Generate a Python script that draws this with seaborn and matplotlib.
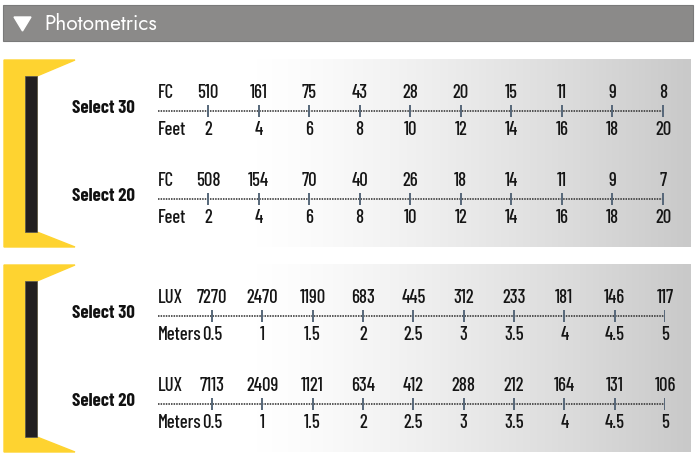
import numpy as np
import pandas as pd
import matplotlib
matplotlib.use("Agg")
import matplotlib.pyplot as plt
import seaborn as sns
from matplotlib.patches import Rectangle, Polygon

sns.set_theme(style="white")
plt.rcParams['font.family'] = ['Barlow Condensed', 'DejaVu Sans']

# data
feet = [2, 4, 6, 8, 10, 12, 14, 16, 18, 20]
fc_select30 = [510, 161, 75, 43, 28, 20, 15, 11, 9, 8]
fc_select20 = [508, 154, 70, 40, 26, 18, 14, 11, 9, 7]
meters = [0.5, 1, 1.5, 2, 2.5, 3, 3.5, 4, 4.5, 5]
lux_select30 = [7270, 2470, 1190, 683, 445, 312, 233, 181, 146, 117]
lux_select20 = [7113, 2409, 1121, 634, 412, 288, 212, 164, 131, 106]
meter_labels = ["0.5", "1", "1.5", "2", "2.5", "3", "3.5", "4", "4.5", "5"]

W, H = 697, 465
fig = plt.figure(figsize=(W / 100, H / 100), dpi=100)
bg = fig.add_axes([0, 0, 1, 1])
bg.set_xlim(0, W)
bg.set_ylim(H, 0)
bg.axis("off")

# header bar
bg.add_patch(Rectangle((3, 5), 690, 36, color="#8b8a89", ec="#7a7a7a", lw=0.8))
bg.add_patch(Polygon([(14, 17), (31, 17), (22.5, 31)], color="white"))
bg.text(44, 23.5, "Photometrics", color="white", fontsize=15, va="center",
        ha="left", family=["Jost", "DejaVu Sans"])

grad = np.linspace(0, 1, 256)
grad = np.clip((grad - 0.15) / 0.85, 0, 1) ** 1.3
grad = np.vstack([grad, grad])
cmap = matplotlib.colors.LinearSegmentedColormap.from_list("g", ["#ffffff", "#c9c9c9"])


def panel(top, bottom):
    bg.imshow(grad, cmap=cmap, extent=(173, 691, bottom, top), aspect="auto", zorder=0)
    bg.add_patch(Polygon([(4, top), (75, top), (37, top + 16), (37, bottom - 15),
                          (75, bottom), (4, bottom)], color="#fed330", zorder=1))
    bg.add_patch(Rectangle((25, top + 16), 12, bottom - top - 31, color="#221f20",
                           ec="#555555", lw=0.5, zorder=2))


panel(60, 247)
panel(265, 452)
bg.set_xlim(0, W)
bg.set_ylim(H, 0)

TXT = dict(fontsize=13.5, fontweight="medium", color="#151515", va="center")


def row(line_y, name, top_label, values, bottom_label, dist, dist_labels, px0, px1):
    x_left, x_right = 158, 664
    h = 50
    ax = fig.add_axes([x_left / W, 1 - (line_y + h / 2) / H, (x_right - x_left) / W, h / H])
    ax.patch.set_alpha(0)
    span = dist[-1] - dist[0]
    scale = span / (px1 - px0)
    ax.set_xlim(dist[0] - (px0 - x_left) * scale, dist[-1] + (x_right - px1) * scale)
    ax.set_ylim(h / 2, -h / 2)
    ax.axis("off")
    ax.axhline(0, color="#2a2a2a", lw=1.1, ls=(0, (1, 0.7)))
    df = pd.DataFrame({"d": dist, "y": 0})
    sns.scatterplot(data=df, x="d", y="y", marker="|", s=85, color="#566779",
                    linewidth=1.4, ax=ax, legend=False, zorder=3)
    x0 = ax.get_xlim()[0]
    ax.text(x0, -18, top_label, ha="left", **TXT)
    ax.text(x0, 19, bottom_label, ha="left", **TXT)
    for d, v, lab in zip(dist, values, dist_labels):
        ax.text(d, -18, str(v), ha="center", **TXT)
        ax.text(d, 19, lab, ha="center", **TXT)
    bg.text(103, line_y - 3, name, fontsize=13.5, fontweight="bold", ha="center",
            va="center", color="#111111")


feet_labels = [str(f) for f in feet]
row(111, "Select 30", "FC", fc_select30, "Feet", feet, feet_labels, 208, 663)
row(199, "Select 20", "FC", fc_select20, "Feet", feet, feet_labels, 208, 663)
row(316, "Select 30", "LUX", lux_select30, "Meters", meters, meter_labels, 212, 665)
row(404, "Select 20", "LUX", lux_select20, "Meters", meters, meter_labels, 212, 665)

fig.savefig("out.png", dpi=100)
